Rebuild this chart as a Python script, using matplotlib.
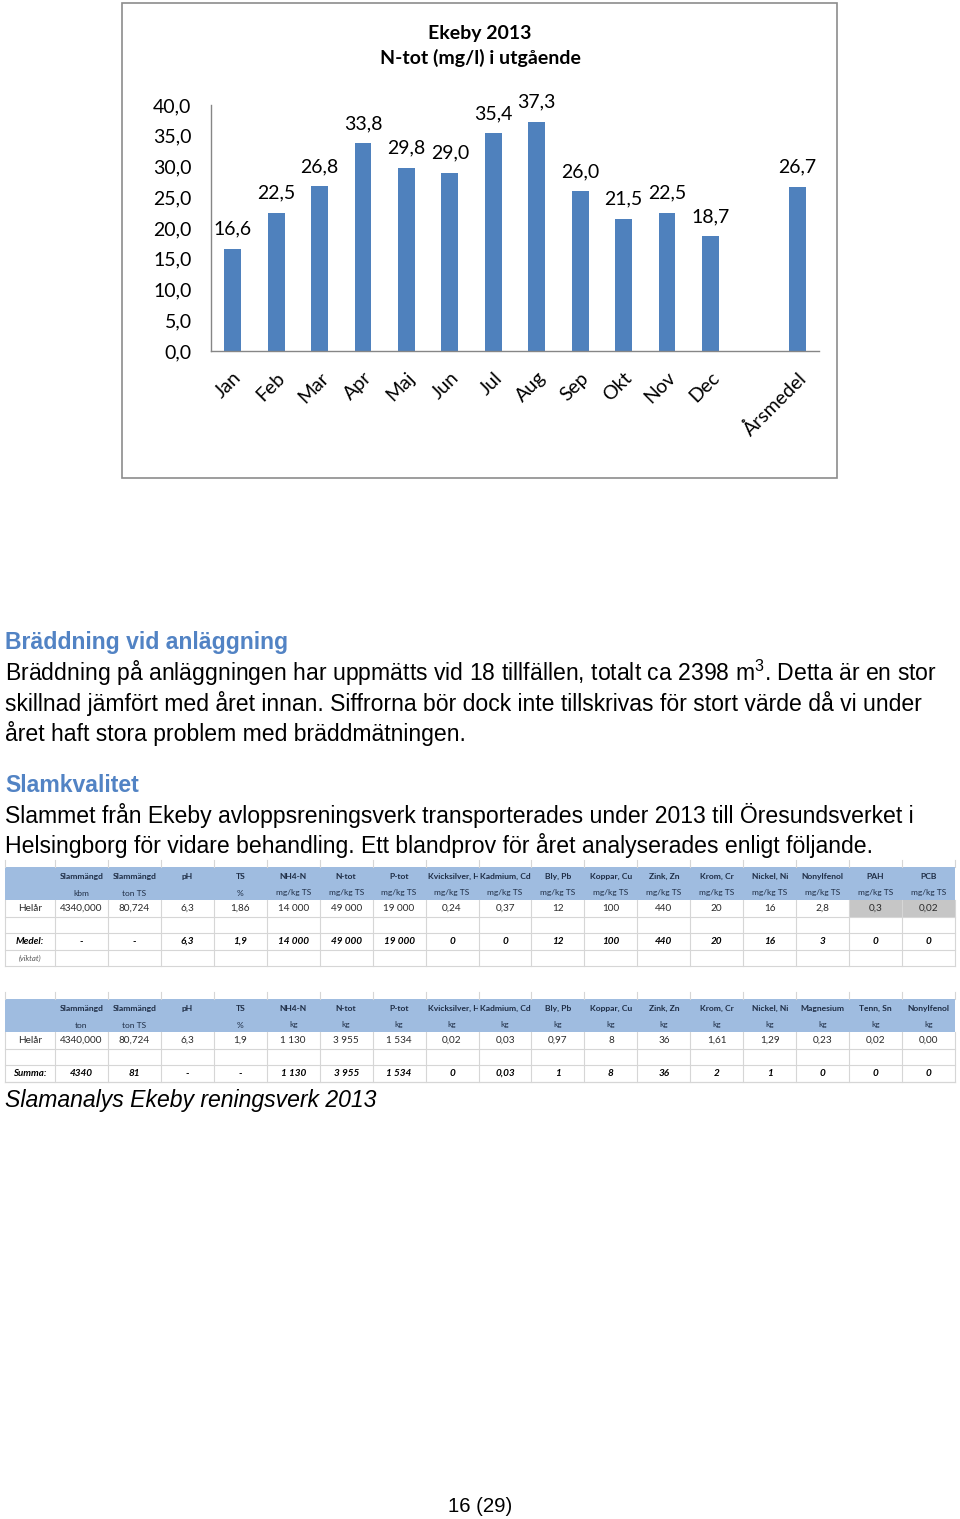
import matplotlib
matplotlib.use('Agg')
import matplotlib.pyplot as plt
import matplotlib.transforms as mtransforms
from matplotlib.patches import Rectangle
import numpy as np

plt.rcParams['mathtext.fontset'] = 'custom'
plt.rcParams['mathtext.rm'] = 'Liberation Sans'
plt.rcParams['mathtext.it'] = 'Liberation Sans:italic'
plt.rcParams['mathtext.bf'] = 'Liberation Sans:bold'

# ---------------- data ----------------
months = ['Jan', 'Feb', 'Mar', 'Apr', 'Maj', 'Jun', 'Jul', 'Aug', 'Sep', 'Okt',
          'Nov', 'Dec', '', 'Årsmedel']
ntot = [16.6, 22.5, 26.8, 33.8, 29.8, 29.0, 35.4, 37.3, 26.0, 21.5, 22.5, 18.7,
        None, 26.7]
yticks = [0, 5, 10, 15, 20, 25, 30, 35, 40]
chart_title = ["Ekeby 2013", "N-tot (mg/l) i utgående"]

heading1 = "Bräddning vid anläggning"
body1 = ["Bräddning på anläggningen har uppmätts vid 18 tillfällen, totalt ca 2398 m$^{3}$. Detta är en stor",
         "skillnad jämfört med året innan. Siffrorna bör dock inte tillskrivas för stort värde då vi under",
         "året haft stora problem med bräddmätningen."]
heading2 = "Slamkvalitet"
body2 = ["Slammet från Ekeby avloppsreningsverk transporterades under 2013 till Öresundsverket i",
         "Helsingborg för vidare behandling. Ett blandprov för året analyserades enligt följande."]
caption = "Slamanalys Ekeby reningsverk 2013"
page_no = "16 (29)"

t1_head = ["", "Slammängd", "Slammängd", "pH", "TS", "NH4-N", "N-tot", "P-tot",
           "Kvicksilver, Hg", "Kadmium, Cd", "Bly, Pb", "Koppar, Cu", "Zink, Zn",
           "Krom, Cr", "Nickel, Ni", "Nonylfenol", "PAH", "PCB"]
t1_unit = ["", "kbm", "ton TS", "", "%"] + ["mg/kg TS"] * 13
t1_row1 = ["Helår", "4340,000", "80,724", "6,3", "1,86", "14 000", "49 000", "19 000",
           "0,24", "0,37", "12", "100", "440", "20", "16", "2,8", "0,3", "0,02"]
t1_row2 = ["Medel:", "-", "-", "6,3", "1,9", "14 000", "49 000", "19 000",
           "0", "0", "12", "100", "440", "20", "16", "3", "0", "0"]
t1_note = "(viktat)"
t1_grey_cols = [16, 17]

t2_head = ["", "Slammängd", "Slammängd", "pH", "TS", "NH4-N", "N-tot", "P-tot",
           "Kvicksilver, Hg", "Kadmium, Cd", "Bly, Pb", "Koppar, Cu", "Zink, Zn",
           "Krom, Cr", "Nickel, Ni", "Magnesium", "Tenn, Sn", "Nonylfenol"]
t2_unit = ["", "ton", "ton TS", "", "%"] + ["kg"] * 13
t2_row1 = ["Helår", "4340,000", "80,724", "6,3", "1,9", "1 130", "3 955", "1 534",
           "0,02", "0,03", "0,97", "8", "36", "1,61", "1,29", "0,23", "0,02", "0,00"]
t2_row2 = ["Summa:", "4340", "81", "-", "-", "1 130", "3 955", "1 534",
           "0", "0,03", "1", "8", "36", "2", "1", "0", "0", "0"]

# ---------------- figure ----------------
W, H = 960, 1519
fig = plt.figure(figsize=(W / 100, H / 100), dpi=100)
fig.patch.set_facecolor('white')

pg = fig.add_axes([0, 0, 1, 1])
pg.set_xlim(0, W)
pg.set_ylim(H, 0)
pg.axis('off')

CH = 'Lato'
TX = 'Liberation Sans'

# chart frame
pg.add_patch(Rectangle((122, 3), 715, 475, fill=False, edgecolor='#8C8C8C', lw=1.2))
pg.text(480, 33, chart_title[0], ha='center', va='center', fontsize=14,
        fontweight='bold', family=CH, color='#000000')
pg.text(480, 58, chart_title[1], ha='center', va='center', fontsize=14,
        fontweight='bold', family=CH, color='#000000')

ax = fig.add_axes([211 / W, 1 - 351 / H, 608 / W, 246 / H])
ax.set_facecolor('none')
xpos = np.arange(len(months))
valid = [i for i, v in enumerate(ntot) if v is not None]
bars = ax.bar([xpos[i] for i in valid], [ntot[i] for i in valid], width=0.39,
              color='#4F81BD', zorder=2)
ax.bar_label(bars, labels=[f"{ntot[i]:.1f}".replace('.', ',') for i in valid],
             padding=8, fontsize=14, family=CH, color='#000000')
ax.set_xlim(-0.5, len(months) - 0.5)
ax.set_ylim(0, 40)
ax.set_yticks(yticks)
ax.set_yticklabels([f"{v:.1f}".replace('.', ',') for v in yticks], family=CH, fontsize=14)
ax.set_xticks(xpos)
ax.set_xticklabels(months, family=CH, fontsize=14, rotation=45, ha='right',
                   rotation_mode='anchor')
offset = mtransforms.ScaledTranslation(5 / 100, 0, fig.dpi_scale_trans)
for lab in ax.get_xticklabels():
    lab.set_transform(lab.get_transform() + offset)
ax.tick_params(axis='y', length=0, pad=14)
ax.tick_params(axis='x', length=0, pad=13)
for s in ['top', 'right']:
    ax.spines[s].set_visible(False)
for s in ['left', 'bottom']:
    ax.spines[s].set_color('#868686')
    ax.spines[s].set_linewidth(1.0)

# ---------------- text ----------------
HEADC = '#5283C4'
FS = 16.6
pg.text(5, 642, heading1, ha='left', va='center', fontsize=FS, fontweight='bold',
        family=TX, color=HEADC)
for i, line in enumerate(body1):
    pg.text(5, 673 + i * 30.5, line, ha='left', va='center', fontsize=FS, family=TX,
            color='#000000')
pg.text(5, 785, heading2, ha='left', va='center', fontsize=FS, fontweight='bold',
        family=TX, color=HEADC)
for i, line in enumerate(body2):
    pg.text(5, 815.5 + i * 30.5, line, ha='left', va='center', fontsize=FS, family=TX,
            color='#000000')
pg.text(5, 1101, caption, ha='left', va='center', fontsize=FS, style='italic',
        family=TX, color='#000000')
pg.text(480, 1507, page_no, ha='center', va='center', fontsize=14.7, family=TX,
        color='#000000')

# ---------------- tables ----------------
X0, X1 = 5, 955
LBLW = 50
ncols = len(t1_head)
colw = (X1 - X0 - LBLW) / (ncols - 1)
col_edges = [X0, X0 + LBLW] + [X0 + LBLW + colw * k for k in range(1, ncols)]
HDR_BG = '#9FBCE0'
GRID = '#D6D6D6'
HDR_TXT = '#1F2D45'


def draw_table(top, head, unit, row1, row2, row2_note=None, grey_cols=()):
    hdr_bot = top + 33
    rows = [hdr_bot, hdr_bot + 17, hdr_bot + 33, hdr_bot + 50]
    bottom = hdr_bot + 66 if row2_note is not None else hdr_bot + 50
    for xe in col_edges:
        pg.plot([xe, xe], [top - 7, top], color=GRID, lw=0.8)
    pg.add_patch(Rectangle((X0, top), X1 - X0, hdr_bot - top, facecolor=HDR_BG,
                           edgecolor='none'))
    for c in grey_cols:
        pg.add_patch(Rectangle((col_edges[c], rows[0]), col_edges[c + 1] - col_edges[c],
                               17, facecolor='#C6C6C6', edgecolor='none'))
    for xe in col_edges:
        pg.plot([xe, xe], [hdr_bot, bottom], color=GRID, lw=0.8)
    for ye in rows[1:] + [bottom]:
        pg.plot([X0, X1], [ye, ye], color=GRID, lw=0.8)
    for c in range(ncols):
        cx = (col_edges[c] + col_edges[c + 1]) / 2
        cbox = mtransforms.TransformedBbox(
            mtransforms.Bbox([[col_edges[c] + 0.5, top], [col_edges[c + 1] - 0.5, hdr_bot]]),
            pg.transData)
        if len(head[c]) > 13:
            t = pg.text(col_edges[c] + 2, top + 9.5, head[c], ha='left', va='center',
                        fontsize=6.1, fontweight='bold', family=CH, color=HDR_TXT)
        else:
            t = pg.text(cx, top + 9.5, head[c], ha='center', va='center', fontsize=6.1,
                        fontweight='bold', family=CH, color=HDR_TXT)
        t.set_clip_box(cbox)
        t.set_clip_on(True)
        pg.text(cx, top + 26, unit[c], ha='center', va='center', fontsize=6.0,
                family=CH, color=HDR_TXT)
        y1 = rows[0] + 8.5
        y2 = rows[2] + 8.5
        pg.text(cx, y1, row1[c], ha='center', va='center', fontsize=7.2,
                family=CH, color='#2A2A2A')
        pg.text(cx, y2, row2[c], ha='center', va='center',
                fontsize=7.0 if c == 0 else 7.2,
                family=CH, fontweight='bold', style='italic', color='#000000')
    if row2_note is not None:
        pg.text((col_edges[0] + col_edges[1]) / 2, rows[3] + 8, row2_note, ha='center',
                va='center', fontsize=5.6, style='italic', family=CH, color='#555555')


draw_table(867, t1_head, t1_unit, t1_row1, t1_row2, t1_note, t1_grey_cols)
draw_table(999, t2_head, t2_unit, t2_row1, t2_row2)

fig.savefig('out.png', dpi=100, facecolor='white')
